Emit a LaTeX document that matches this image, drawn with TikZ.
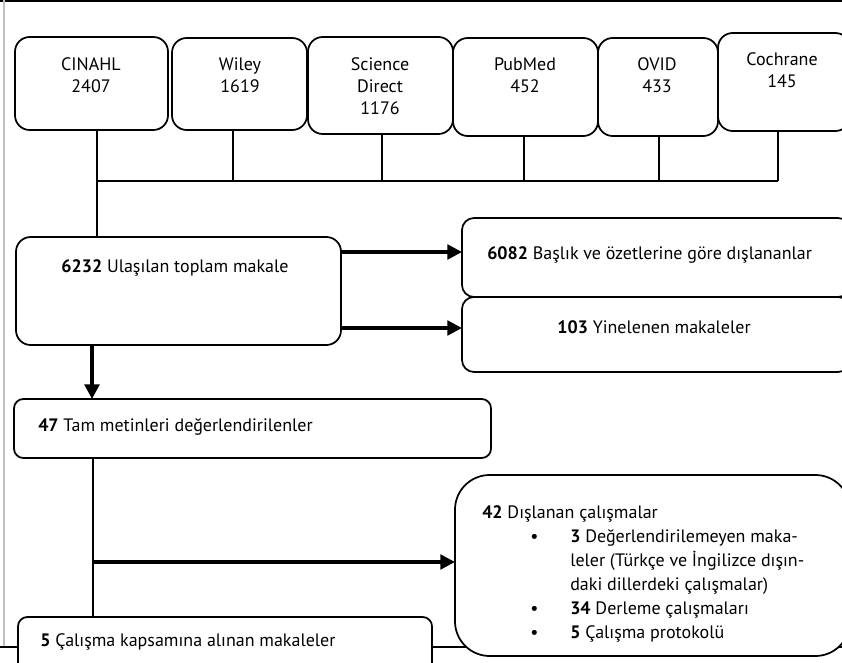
\documentclass[tikz,border=0pt]{standalone}
\usepackage{fontspec}
\setmainfont{PT Sans}
\usetikzlibrary{arrows.meta}

\tikzset{
  dbbox/.style={draw, line width=1.3pt, rounded corners=11pt, fill=white, inner sep=0pt, outer sep=0pt},
  txt/.style={inner sep=0.75pt, font=\fontsize{13.5}{16.5}\selectfont, align=center},
  link/.style={line width=1pt},
  arr/.style={line width=2.4pt, -{Triangle[length=11pt,width=11pt]}},
}

\begin{document}
\begin{tikzpicture}[x=0.75pt,y=0.75pt,yscale=-1,xscale=1]
\clip (0,0) rectangle (842,663);

% frame
\draw [line width=1pt] (0,1) -- (842,1) ;
\draw [line width=1pt, color=black!25] (4,0) -- (4,647) ;
\draw [line width=1pt] (0,647) -- (842,647) ;

%Rounded Rect: databases
\node [dbbox, minimum width=153*0.75pt, minimum height=93*0.75pt] (cinahl) at (91.5,83.5) {};
\node [dbbox, minimum width=135*0.75pt, minimum height=92*0.75pt] (wiley) at (239.5,84) {};
\node [dbbox, minimum width=145*0.75pt, minimum height=97*0.75pt] (scidir) at (380.5,85.5) {};
\node [dbbox, minimum width=145*0.75pt, minimum height=98*0.75pt] (pubmed) at (525.5,87) {};
\node [dbbox, minimum width=120*0.75pt, minimum height=98*0.75pt] (ovid) at (658,87) {};
\node [dbbox, minimum width=132*0.75pt, minimum height=98*0.75pt] (cochrane) at (784,82) {};

% Text Node
\node [txt] (cinahltxt) at (91,75) {CINAHL\\2407};
\node [txt] (wileytxt) at (240,75) {Wiley\\1619};
\node [txt] (scidirtxt) at (380,86) {Science\\Direct\\1176};
\node [txt] (pubmedtxt) at (525,75.5) {PubMed\\452};
\node [txt] (ovidtxt) at (657,75.5) {OVID\\433};
\node [txt] (cochranetxt) at (782,70.5) {Cochrane\\145};

%Rounded Rect: flow
\node [dbbox, minimum width=325*0.75pt, minimum height=108*0.75pt] (total) at (178.5,291) {};
\node [dbbox, rounded corners=9pt, minimum width=388*0.75pt, minimum height=79*0.75pt] (titleex) at (656,257.5) {};
\node [dbbox, rounded corners=9pt, minimum width=388*0.75pt, minimum height=75*0.75pt] (dupl) at (656,334.5) {};
\node [dbbox, rounded corners=7pt, minimum width=477*0.75pt, minimum height=59*0.75pt] (full) at (252.5,428.5) {};
\node [dbbox, rounded corners=26pt, minimum width=395*0.75pt, minimum height=181*0.75pt] (excl) at (652.5,565.5) {};
\node [dbbox, rounded corners=7pt, minimum width=414*0.75pt, minimum height=63*0.75pt] (incl) at (225,648.5) {};

% Text Node
\node [txt] (totaltxt) at (175,268) {\textbf{6232} Ulaşılan toplam makale};
\node [txt, anchor=west] (titleextxt) at (486,255) {\textbf{6082} Başlık ve özetlerine göre dışlananlar};
\node [txt] (dupltxt) at (654,327) {\textbf{103} Yinelenen makaleler};
\node [txt, anchor=west] (fulltxt) at (37,427) {\textbf{47} Tam metinleri değerlendirilenler};
\node [txt, anchor=west] (incltxt) at (39,642) {\textbf{5} Çalışma kapsamına alınan makaleler};
\node [txt, anchor=north west, align=left, font=\fontsize{13.5}{18}\selectfont] (excltxt) at (481,500) {%
  \begin{tabular}{@{}p{66pt}@{}l@{}}
  \multicolumn{2}{@{}l}{\textbf{42} Dışlanan çalışmalar}\\
  \hspace*{36pt}\textbullet & \textbf{3} Değerlendirilemeyen maka-\\
   & leler (Türkçe ve İngilizce dışın-\\
   & daki dillerdeki çalışmalar)\\
  \hspace*{36pt}\textbullet & \textbf{34} Derleme çalışmaları\\
  \hspace*{36pt}\textbullet & \textbf{5} Çalışma protokolü
  \end{tabular}};

%Straight Lines
\coordinate (bus1) at (97,181);
\coordinate (bus2) at (233,181);
\coordinate (bus3) at (382,181);
\coordinate (bus4) at (524,181);
\coordinate (bus5) at (659,181);
\coordinate (bus6) at (778,181);
\draw [link] (cinahl.south -| bus1) -- (total.north -| bus1) ;
\draw [link] (wiley.south -| bus2) -- (bus2) ;
\draw [link] (scidir.south -| bus3) -- (bus3) ;
\draw [link] (pubmed.south -| bus4) -- (bus4) ;
\draw [link] (ovid.south -| bus5) -- (bus5) ;
\draw [link] (cochrane.south -| bus6) -- (bus6) ;
\draw [link] (bus1) -- (bus6) ;

%Arrows
\draw [arr] (total.east |- 0,252) -- (titleex.west |- 0,252) ;
\draw [arr] (total.east |- 0,328) -- (dupl.west |- 0,328) ;
\draw [arr, line width=3.6pt] (total.south -| 92,0) -- (full.north -| 92,0) ;
\coordinate (split) at (93,562);
\draw [link] (full.south -| split) -- (incl.north -| split) ;
\draw [arr] (split) -- (excl.west |- split) ;

\end{tikzpicture}
\end{document}
